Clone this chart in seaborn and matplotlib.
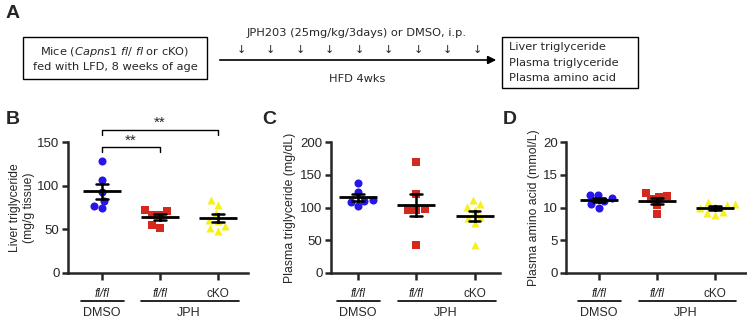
import numpy as np
import pandas as pd
import seaborn as sns
import matplotlib.pyplot as plt

# group order and per-group styling
groups = ['DMSO fl/fl', 'JPH fl/fl', 'JPH cKO']
tick_labels = ['fl/fl', 'fl/fl', 'cKO']
colors = ['#2616e8', '#d4291e', '#f7f01c']
markers = ['o', 's', '^']

# B: liver triglyceride (mg/g tissue)
liver_tg_dmso = [128, 107, 93, 83, 74, 77]
liver_tg_jph_fl = [72.6, 66.9, 66.5, 71.1, 52, 55]
liver_tg_jph_cko = [84, 78, 69, 61, 60, 54, 51, 48.5]

# C: plasma triglyceride (mg/dL)
plasma_tg_dmso = [137, 124, 110, 102, 109, 111]
plasma_tg_jph_fl = [169, 121, 96, 96, 98, 43]
plasma_tg_jph_cko = [105, 96, 101, 111, 83.5, 76, 86, 43]

# D: plasma amino acid (mmol/L)
plasma_aa_dmso = [11.0, 11.9, 10.0, 11.9, 10.5, 11.4]
plasma_aa_jph_fl = [11.8, 12.2, 11.65, 11.25, 10.4, 8.95]
plasma_aa_jph_cko = [10.5, 10.9, 10.4, 9.3, 8.85, 9.2, 10.0, 10.1]


def long_frame(dmso, jph_fl, jph_cko):
    vals = [dmso, jph_fl, jph_cko]
    return pd.DataFrame({
        'group': np.concatenate([[g] * len(v) for g, v in zip(groups, vals)]),
        'value': np.concatenate(vals),
    })


sns.set_theme(style='ticks')
plt.rcParams['font.family'] = ['Liberation Sans', 'DejaVu Sans']

fig = plt.figure(figsize=(7.47, 3.2), dpi=100)

# overlay for panel letters and the scheme in A (pixel coordinates)
ov = fig.add_axes([0, 0, 1, 1], zorder=-1)
ov.set_xlim(0, 747)
ov.set_ylim(320, 0)
ov.axis('off')

for lab, x, y in [('A', 6, 14), ('B', 6, 120), ('C', 262, 120), ('D', 503, 120)]:
    ov.text(x, y, lab, fontsize=14, fontweight='bold', va='center', ha='left')

scheme_font = ['DejaVu Sans']
fs = 8.2
ov.add_patch(plt.Rectangle((23, 37), 184, 42, fill=False, lw=1, ec='black'))
ov.text(115, 52, r'Mice ($\it{Capns1\ fl/\ fl}$ or cKO)', fontsize=fs, ha='center', va='center',
        family=scheme_font)
ov.text(115, 67, 'fed with LFD, 8 weeks of age', fontsize=fs, ha='center', va='center', family=scheme_font)

ov.annotate('', xy=(499, 60), xytext=(217, 60),
            arrowprops=dict(arrowstyle='-|>', lw=1.2, color='black', mutation_scale=12))
ov.text(357, 33, 'JPH203 (25mg/kg/3days) or DMSO, i.p.', fontsize=fs, ha='center', va='center',
        family=scheme_font)
for ax_x in np.linspace(241, 477, 9):
    ov.text(ax_x, 50, '\u2193', fontsize=8, ha='center', va='center', family=scheme_font)
ov.text(357, 79, 'HFD 4wks', fontsize=fs, ha='center', va='center', family=scheme_font)

ov.add_patch(plt.Rectangle((502, 37), 136, 51, fill=False, lw=1, ec='black'))
for i, t in enumerate(['Liver triglyceride', 'Plasma triglyceride', 'Plasma amino acid']):
    ov.text(509, 47 + i * 15.5, t, fontsize=fs, ha='left', va='center', family=scheme_font)

panels = [
    dict(pos=[0.091, 0.147, 0.241, 0.409], xlim=(-0.59, 2.52), ylim=(0, 150), step=50,
         ylabel='Liver triglyceride\n(mg/g tissue)', ylfs=8.7, pad=2,
         df=long_frame(liver_tg_dmso, liver_tg_jph_fl, liver_tg_jph_cko)),
    dict(pos=[0.443, 0.147, 0.226, 0.409], xlim=(-0.46, 2.43), ylim=(0, 200), step=50,
         ylabel='Plasma triglyceride (mg/dL)', ylfs=8.8, pad=3,
         df=long_frame(plasma_tg_dmso, plasma_tg_jph_fl, plasma_tg_jph_cko)),
    dict(pos=[0.758, 0.147, 0.240, 0.409], xlim=(-0.57, 2.53), ylim=(0, 20), step=5,
         ylabel='Plasma amino acid (mmol/L)', ylfs=8.8, pad=2,
         df=long_frame(plasma_aa_dmso, plasma_aa_jph_fl, plasma_aa_jph_cko)),
]

axes = []
for p in panels:
    ax = fig.add_axes(p['pos'])
    df = p['df']
    for g, c, m in zip(groups, colors, markers):
        sns.swarmplot(data=df[df['group'] == g], x='group', y='value', order=groups,
                      color=c, marker=m, size=5.8, linewidth=0, ax=ax, zorder=2)
    sns.pointplot(data=df, x='group', y='value', order=groups, errorbar='se',
                  color='black', marker='_', markersize=27, markeredgewidth=2,
                  linestyle='none', capsize=0.2, err_kws={'linewidth': 1.8}, ax=ax)
    for coll in ax.collections:
        coll.set_zorder(2)
    for ln in ax.lines:
        ln.set_zorder(3)

    ax.set_xlim(*p['xlim'])
    ax.set_ylim(*p['ylim'])
    ax.set_yticks(np.arange(0, p['ylim'][1] + 1, p['step']))
    ax.set_xticks(range(3))
    ax.set_xticklabels(tick_labels, fontsize=8.5)
    for lab in ax.get_xticklabels()[:2]:
        lab.set_style('italic')
    ax.tick_params(axis='y', labelsize=9.5, length=4.5, width=1.8, pad=1.5)
    ax.tick_params(axis='x', length=5, width=1.8, pad=6)
    ax.set_xlabel('')
    ax.set_ylabel(p['ylabel'], fontsize=p['ylfs'], labelpad=p['pad'], linespacing=1.15)
    sns.despine(ax=ax)
    for s in ['left', 'bottom']:
        ax.spines[s].set_linewidth(1.8)

    # treatment group lines under the tick labels
    tr = ax.get_xaxis_transform()
    ax.plot([-0.36, 0.38], [-0.215, -0.215], color='black', lw=1.2, transform=tr, clip_on=False)
    ax.plot([0.68, 2.36], [-0.215, -0.215], color='black', lw=1.2, transform=tr, clip_on=False)
    ax.text(0.0, -0.305, 'DMSO', fontsize=9, ha='center', va='center', transform=tr)
    ax.text(1.5, -0.305, 'JPH', fontsize=9, ha='center', va='center', transform=tr)
    axes.append(ax)

# significance brackets in B
axb = axes[0]
axb.plot([0, 0, 1, 1], [138.5, 144, 144, 138.5], color='black', lw=1, clip_on=False)
axb.text(0.5, 144, '**', fontsize=11, ha='center', va='bottom')
axb.plot([0, 0, 2, 2], [158, 164, 164, 158], color='black', lw=1, clip_on=False)
axb.text(1.0, 164, '**', fontsize=11, ha='center', va='bottom')

plt.savefig('out.png', dpi=100)
